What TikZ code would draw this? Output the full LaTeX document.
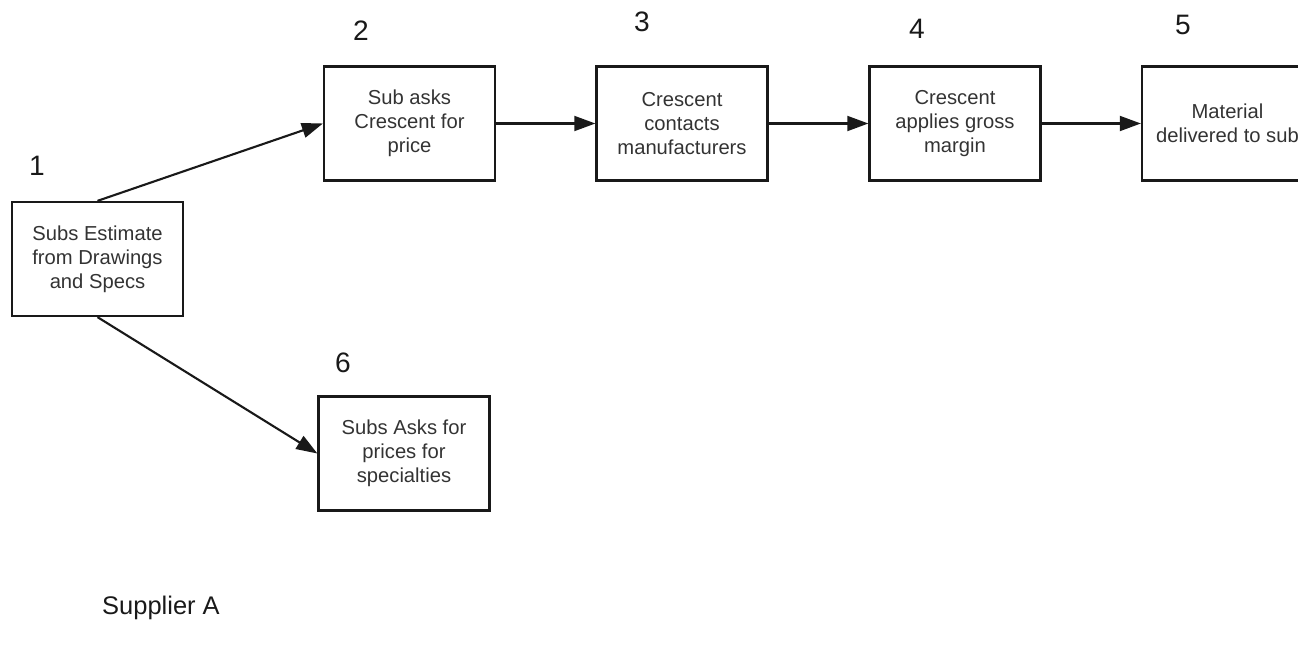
\documentclass[tikz,border=0pt]{standalone}
\usepackage{fontspec}
\setmainfont{Liberation Sans}
\usetikzlibrary{arrows.meta,positioning}

\begin{document}
\begin{tikzpicture}[x=0.02cm, y=-0.02cm, >={Triangle[length=12pt,width=8.5pt]}]
        \tikzset{stepbox/.style={rectangle, draw=black!90, line width=1.3pt, minimum width=3.42cm, minimum height=2.28cm, align=center, text=black!80, font=\fontsize{11.5}{13.6}\selectfont, inner sep=0pt}, num/.style={font=\fontsize{16}{19}\selectfont, text=black!90}, flow/.style={->, line width=1.2pt, draw=black!90}}
        \useasboundingbox (0,0) rectangle (1298,658);
        \clip (0,0) rectangle (1298,658);
        \node[stepbox] (est) at (97.5,259) {Subs Estimate\\from Drawings\\and Specs};
        \node[stepbox] (ask) at (409.5,123.5) {Sub asks\\Crescent for\\price};
        \node[stepbox] (cont) at (682,123.5) {Crescent\\contacts\\manufacturers};
        \node[stepbox] (marg) at (955,123.5) {Crescent\\applies gross\\margin};
        \node[stepbox] (deliv) at (1227.5,123.5) {Material\\delivered to sub};
        \node[stepbox] (spec) at (404,453.5) {Subs Asks for\\prices for\\specialties};
        \node[num] (n1) at (37,166) {1};
        \node[num] (n2) at (361,31) {2};
        \node[num] (n3) at (642,22) {3};
        \node[num] (n4) at (917,29) {4};
        \node[num] (n5) at (1183,25) {5};
        \node[num] (n6) at (343,363) {6};
        \node[num, font=\fontsize{14.5}{17}\selectfont, anchor=west] (sup) at (96,608) {Supplier A};
        \draw[flow] (est.north) -- (ask.west);
        \draw[flow] (est.south) -- (spec.west);
        \foreach \a/\b in {ask/cont, cont/marg, marg/deliv} {\draw[flow] (\a) -- (\b);}
    \end{tikzpicture}
\end{document}
